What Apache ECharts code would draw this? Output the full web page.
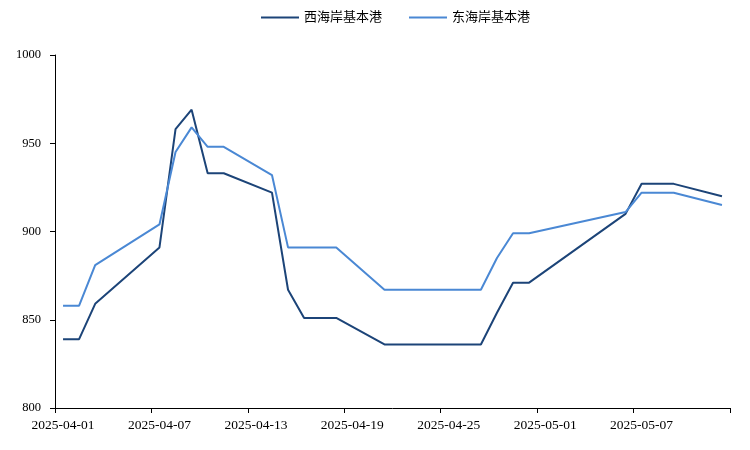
<!DOCTYPE html>
<html>
<head>
<meta charset="utf-8">
<script src="https://cdn.jsdelivr.net/npm/echarts@6/dist/echarts.min.js"></script>
<style>html,body{margin:0;padding:0;background:#fff}#c{width:750px;height:450px}</style>
</head>
<body>
<div id="c"></div>
<script>
var seriesNames = ['西海岸基本港', '东海岸基本港'];
var dates = ['2025-04-01','2025-04-02','2025-04-03','2025-04-07','2025-04-08','2025-04-09','2025-04-10','2025-04-11',
             '2025-04-14','2025-04-15','2025-04-16','2025-04-18','2025-04-21','2025-04-27','2025-04-28','2025-04-29',
             '2025-04-30','2025-05-06','2025-05-07','2025-05-09','2025-05-12'];
var westCoast = [839, 839, 859, 891, 958, 969, 933, 933,
                 922, 867, 851, 851, 836, 836, 854, 871,
                 871, 910, 927, 927, 920];
var eastCoast = [858, 858, 881, 904, 945, 959, 948, 948,
                 932, 891, 891, 891, 867, 867, 885, 899,
                 899, 911, 922, 922, 915];
var axisStart = '2025-04-01';
var axisDays = 42;
var yMin = 800, yMax = 1000, yStep = 50;

function fmt(d){
  var m = d.getUTCMonth()+1, dd = d.getUTCDate();
  return d.getUTCFullYear()+'-'+(m<10?'0':'')+m+'-'+(dd<10?'0':'')+dd;
}
var categories = [];
var t0 = Date.parse(axisStart+'T00:00:00Z');
for (var i = 0; i < axisDays; i++) categories.push(fmt(new Date(t0 + i*86400000)));
function toSeries(vals){
  var map = {};
  dates.forEach(function(d,i){ map[d] = vals[i]; });
  return categories.map(function(c){ return map.hasOwnProperty(c) ? map[c] : null; });
}

var font = '"Liberation Serif", "Noto Sans CJK SC", serif';
var chart = echarts.init(document.getElementById('c'), null, {renderer:'canvas'});
chart.setOption({
  animation: false,
  textStyle: { fontFamily: font },
  legend: {
    top: 6, left: 256, itemWidth: 38, itemHeight: 2, itemGap: 27,
    icon: 'rect',
    textStyle: { fontFamily: font, fontSize: 13, color: '#000' },
    data: seriesNames
  },
  grid: { left: 55, right: 20, top: 55, bottom: 42 },
  xAxis: {
    type: 'category',
    data: categories,
    boundaryGap: true,
    axisLine: { lineStyle: { color: '#000', width: 1 } },
    axisTick: { show: true, interval: 5, length: 5, lineStyle: { color: '#000' } },
    axisLabel: { interval: 5, color: '#000', fontSize: 13.5, fontFamily: font, margin: 11 },
    splitLine: { show: false }
  },
  yAxis: {
    type: 'value',
    min: yMin, max: yMax, interval: yStep,
    axisLine: { show: true, lineStyle: { color: '#000', width: 1 } },
    axisTick: { show: true, length: 5, lineStyle: { color: '#000' } },
    axisLabel: { color: '#000', fontSize: 12.5, fontFamily: font, margin: 14,
      formatter: function(v){ return String(v); } },
    splitLine: { show: false }
  },
  series: [
    { name: seriesNames[0], type: 'line', data: toSeries(westCoast), connectNulls: true,
      showSymbol: false, symbol: 'none', lineStyle: { color: '#1C4478', width: 2 }, itemStyle: { color: '#1C4478' } },
    { name: seriesNames[1], type: 'line', data: toSeries(eastCoast), connectNulls: true,
      showSymbol: false, symbol: 'none', lineStyle: { color: '#4A88D4', width: 2 }, itemStyle: { color: '#4A88D4' } }
  ]
});
</script>
</body>
</html>
